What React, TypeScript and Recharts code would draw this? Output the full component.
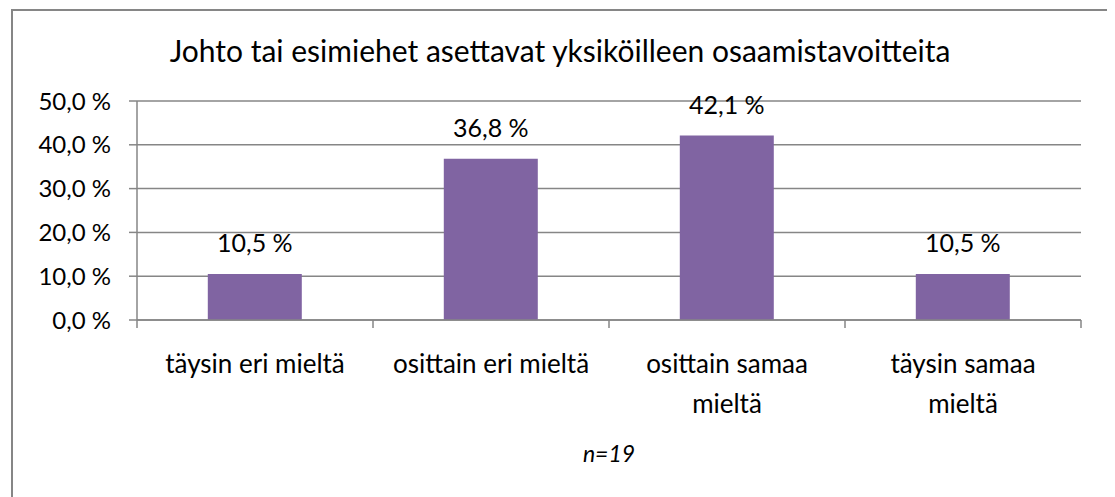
import { BarChart, Bar, XAxis, YAxis, CartesianGrid, LabelList, Label } from "recharts"

const categories = ["täysin eri mieltä", "osittain eri mieltä", "osittain samaa mieltä", "täysin samaa mieltä"]
const categoryLines = [["täysin eri mieltä"], ["osittain eri mieltä"], ["osittain samaa", "mieltä"], ["täysin samaa", "mieltä"]]
const shares = [10.5, 36.8, 42.1, 10.5]
const yTicks = [0, 10, 20, 30, 40, 50]

const title = "Johto tai esimiehet asettavat yksiköilleen osaamistavoitteita"
const sampleNote = "n=19"

const data = categories.map((c, i) => ({ category: c, share: shares[i] }))

const gridColor = "#868686"
const barColor = "#8064A2"
const font = "Lato, 'Open Sans', sans-serif"

const pct = (v: number) => v.toFixed(1).replace(".", ",") + " %"

const CategoryTick = (props: any) => {
  const { x, y, index, payload } = props
  const half = payload && payload.offset ? payload.offset : 118
  const lines = categoryLines[index] || []
  return (
    <g>
      <line x1={x - half} y1={y} x2={x - half} y2={y + 8} stroke={gridColor} strokeWidth={1.5} />
      {index === categoryLines.length - 1 && (
        <line x1={x + half} y1={y} x2={x + half} y2={y + 8} stroke={gridColor} strokeWidth={1.5} />
      )}
      <text x={x} y={y} textAnchor="middle" fontSize={26} fontFamily={font} fill="#000">
        {lines.map((l, i) => (
          <tspan key={i} x={x} dy={i === 0 ? 53 : 40}>
            {l}
          </tspan>
        ))}
      </text>
    </g>
  )
}

export default function App() {
  return (
    <div
      style={{
        position: "relative",
        marginLeft: 3,
        marginTop: 1,
        width: 1094,
        height: 486,
        border: `2px solid ${gridColor}`,
        borderBottom: "none",
        fontFamily: font,
        background: "#fff",
      }}
    >
      <div
        style={{
          position: "absolute",
          top: 21,
          left: 0,
          width: "100%",
          textAlign: "center",
          fontSize: 30,
          lineHeight: "36px",
          color: "#000",
        }}
      >
        {title}
      </div>
      <BarChart
        width={1094}
        height={486}
        data={data}
        margin={{ top: 90, right: 26, bottom: 0, left: 0 }}
        barCategoryGap="30%"
      >
        <CartesianGrid vertical={false} stroke={gridColor} strokeWidth={1.5} />
        <XAxis
          dataKey="category"
          height={177}
          stroke={gridColor}
          strokeWidth={1.5}
          tickLine={false}
          tickSize={0}
          tickMargin={0}
          interval={0}
          tick={<CategoryTick />}
        >
          <Label
            value={sampleNote}
            position="insideBottom"
            offset={35}
            fontSize={23}
            fontStyle="italic"
            fill="#000"
            fontFamily={font}
          />
        </XAxis>
        <YAxis
          width={124}
          domain={[0, 50]}
          ticks={yTicks}
          tickFormatter={pct}
          stroke={gridColor}
          strokeWidth={1.5}
          tickSize={8}
          tickMargin={18}
          tick={{ fill: "#000", fontSize: 24, fontFamily: font }}
        />
        <Bar dataKey="share" fill={barColor} isAnimationActive={false}>
          <LabelList
            dataKey="share"
            position="top"
            offset={22}
            formatter={(v: any) => pct(Number(v))}
            fill="#000"
            fontSize={25}
            fontFamily={font}
          />
        </Bar>
      </BarChart>
    </div>
  )
}
